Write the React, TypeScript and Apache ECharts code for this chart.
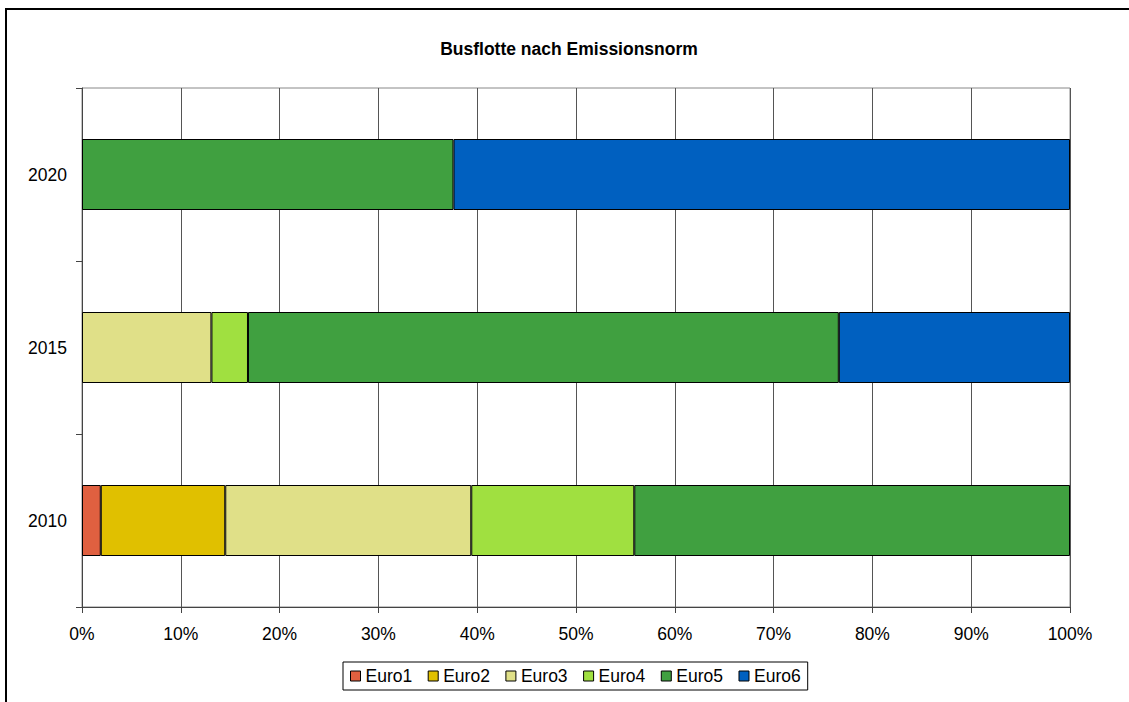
import React, { useEffect, useRef } from "react";
import * as echarts from "echarts";

const years = ["2010", "2015", "2020"];
const seriesNames = ["Euro1", "Euro2", "Euro3", "Euro4", "Euro5", "Euro6"];
const euro1 = [1.9, 0, 0];
const euro2 = [12.6, 0, 0];
const euro3 = [24.9, 13.1, 0];
const euro4 = [16.5, 3.7, 0];
const euro5 = [44.1, 59.8, 37.6];
const euro6 = [0, 23.4, 62.4];
const seriesValues = [euro1, euro2, euro3, euro4, euro5, euro6];
const colors = ["#E06040", "#E0C000", "#E0E088", "#A0E040", "#40A040", "#0060C0"];
const xTicks = [0, 10, 20, 30, 40, 50, 60, 70, 80, 90, 100];

const FONT = "'Liberation Sans', Arial, sans-serif";

export default function App() {
  const ref = useRef<HTMLDivElement>(null);
  useEffect(() => {
    if (!ref.current) return;
    const chart = echarts.init(ref.current, null, { renderer: "svg" });
    chart.setOption({
      animation: false,
      backgroundColor: "#fff",
      title: {
        text: "Busflotte nach Emissionsnorm",
        left: 564,
        textAlign: "center",
        top: 35,
        textStyle: { fontFamily: FONT, fontSize: 17.5, fontWeight: "bold", color: "#000" },
      },
      graphic: [
        {
          type: "polyline",
          shape: { points: [[6, 720], [6, 9], [1140, 9]] },
          style: { stroke: "#000", lineWidth: 2, fill: "none" },
        },
      ],
      legend: {
        data: seriesNames,
        left: 343,
        top: 662,
        padding: [5, 7, 5, 7],
        itemGap: 15.5,
        itemWidth: 10,
        itemHeight: 10,
        icon: "rect",
        borderColor: "#000",
        borderWidth: 1,
        itemStyle: { borderColor: "#000", borderWidth: 1 },
        textStyle: { fontFamily: FONT, fontSize: 17.5, color: "#000" },
      },
      grid: {
        left: 82,
        right: 59,
        top: 88,
        bottom: 95,
        show: true,
        borderColor: "#888",
        borderWidth: 1,
      },
      xAxis: {
        type: "value",
        min: xTicks[0],
        max: xTicks[xTicks.length - 1],
        interval: 10,
        axisLine: { show: true, lineStyle: { color: "#444", width: 1 } },
        axisTick: { show: true, length: 6, lineStyle: { color: "#444" } },
        axisLabel: {
          formatter: "{value}%",
          fontFamily: FONT,
          fontSize: 17.5,
          color: "#000",
          margin: 18,
        },
        splitLine: { show: true, lineStyle: { color: "#555", width: 1 } },
      },
      yAxis: {
        type: "category",
        data: years,
        axisLine: { show: true, lineStyle: { color: "#444", width: 1 } },
        axisTick: { show: true, length: 6, lineStyle: { color: "#444" } },
        axisLabel: { fontFamily: FONT, fontSize: 17.5, color: "#000", margin: 15 },
        splitLine: { show: false },
      },
      series: seriesNames.map((name, i) => ({
        name,
        type: "bar",
        stack: "total",
        barWidth: 71,
        data: seriesValues[i].map((v) => (v === 0 ? null : v)),
        itemStyle: { color: colors[i], borderColor: "#000", borderWidth: 1 },
      })),
    });
    return () => chart.dispose();
  }, []);
  return (
    <div
      ref={ref}
      style={{ position: "fixed", left: 0, top: 0, width: 1129, height: 702 }}
    />
  );
}
